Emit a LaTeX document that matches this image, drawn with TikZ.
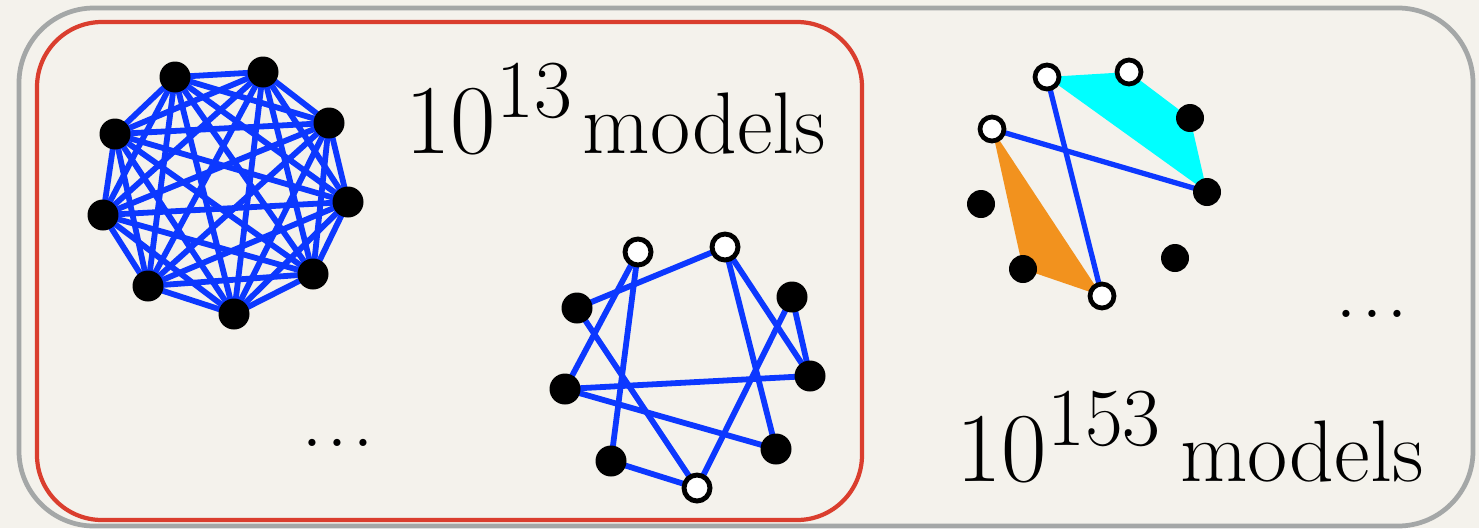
\documentclass[tikz,border=0pt]{standalone}
\usepackage{graphicx}
\definecolor{paper}{RGB}{244,242,236}
\definecolor{edgeblue}{RGB}{12,56,255}
\definecolor{boxred}{RGB}{218,62,46}
\definecolor{boxgray}{RGB}{164,167,167}
\definecolor{cyanfill}{RGB}{0,255,255}
\definecolor{orangefill}{RGB}{242,146,30}
\pgfdeclarelayer{paperlayer}
\pgfdeclarelayer{edgelayer}
\pgfsetlayers{paperlayer,edgelayer,main}
\newcommand{\threedots}{.\kern0.04em.\kern0.04em.}
\begin{document}
\begin{tikzpicture}[x=0.02cm,y=-0.02cm,
  fulldot/.style={circle,fill=black,inner sep=0pt,minimum size=0.62cm},
  opendot/.style={circle,draw=black,fill=white,line width=2.8pt,inner sep=0pt,minimum size=0.52cm},
  smallfull/.style={circle,fill=black,inner sep=0pt,minimum size=0.56cm},
  smallopen/.style={circle,draw=black,fill=white,line width=2.7pt,inner sep=0pt,minimum size=0.48cm},
  bedge/.style={draw=edgeblue,line width=3.3pt},
  sedge/.style={draw=edgeblue,line width=3pt},
  bigtext/.style={font=\Huge,scale=2,inner sep=0pt}]
\useasboundingbox (0,0) rectangle (1479,528);
\begin{pgfonlayer}{paperlayer}
  \fill[paper] (0,0) rectangle (1479,528);
  \draw[boxgray,line width=2.7pt,rounded corners=1.5cm] (19,8) rectangle (1473,526);
  \draw[boxred,line width=2.4pt,rounded corners=1.3cm] (37,22) rectangle (862,520);
\end{pgfonlayer}

% complete graph K9
\foreach \n/\x/\y in {1/175/77,2/263/72,3/329/123,4/348/202,5/313/274,6/234/314,7/148/286,8/103/215,9/115/134}
  \node[fulldot] (k\n) at (\x,\y) {};
\begin{pgfonlayer}{edgelayer}
  \foreach \i in {1,...,8}{
    \pgfmathtruncatemacro\s{\i+1}
    \foreach \j in {\s,...,9}
      \draw[bedge] (k\i.center) -- (k\j.center);
  }
\end{pgfonlayer}

% second graph
\node[opendot] (a) at (638,252) {};
\node[opendot] (b) at (725,247) {};
\node[fulldot] (c) at (577,308) {};
\node[fulldot] (d) at (792,297) {};
\node[fulldot] (e) at (810,376) {};
\node[fulldot] (f) at (565,389) {};
\node[fulldot] (g) at (776,449) {};
\node[fulldot] (h) at (611,461) {};
\node[opendot] (i) at (697,488) {};
\begin{pgfonlayer}{edgelayer}
  \draw[bedge] (c.center) -- (b.center);
  \draw[bedge] (a.center) -- (f.center);
  \draw[bedge] (a.center) -- (h.center);
  \draw[bedge] (c.center) -- (i.center);
  \draw[bedge] (f.center) -- (e.center);
  \draw[bedge] (f.center) -- (g.center);
  \draw[bedge] (b.center) -- (g.center);
  \draw[bedge] (b.center) -- (e.center);
  \draw[bedge] (d.center) -- (e.center);
  \draw[bedge] (d.center) -- (i.center);
  \draw[bedge] (h.center) -- (i.center);
\end{pgfonlayer}

% third graph
\node[smallopen] (p1) at (1047,77) {};
\node[smallopen] (p2) at (1129,72) {};
\node[smallfull] (p3) at (1190,118) {};
\node[smallopen] (p4) at (992,129) {};
\node[smallfull] (p5) at (1207,192) {};
\node[smallfull] (p6) at (981,204) {};
\node[smallfull] (p7) at (1175,258) {};
\node[smallfull] (p8) at (1023,269) {};
\node[smallopen] (p9) at (1102,296) {};
\begin{pgfonlayer}{edgelayer}
  \fill[cyanfill] (p1.center) -- (p2.center) -- (p3.center) -- (p5.center) -- cycle;
  \fill[orangefill] (p4.center) -- (p8.center) -- (p9.center) -- cycle;
  \draw[sedge] (p4.center) -- (p5.center);
  \draw[sedge] (p1.center) -- (p9.center);
\end{pgfonlayer}

% texts
\node[bigtext,anchor=base west] (t1) at (405,153) {\scalebox{1.13}{$10^{13}$}\kern0.1em models};
\node[bigtext,anchor=base west] (t2) at (956,481) {\scalebox{1.13}{$10^{153}$}\kern0.2em models};
\node[bigtext,anchor=base] (dots1) at (338,446) {\threedots};
\node[bigtext,anchor=base] (dots2) at (1372,317) {\threedots};
\end{tikzpicture}
\end{document}
